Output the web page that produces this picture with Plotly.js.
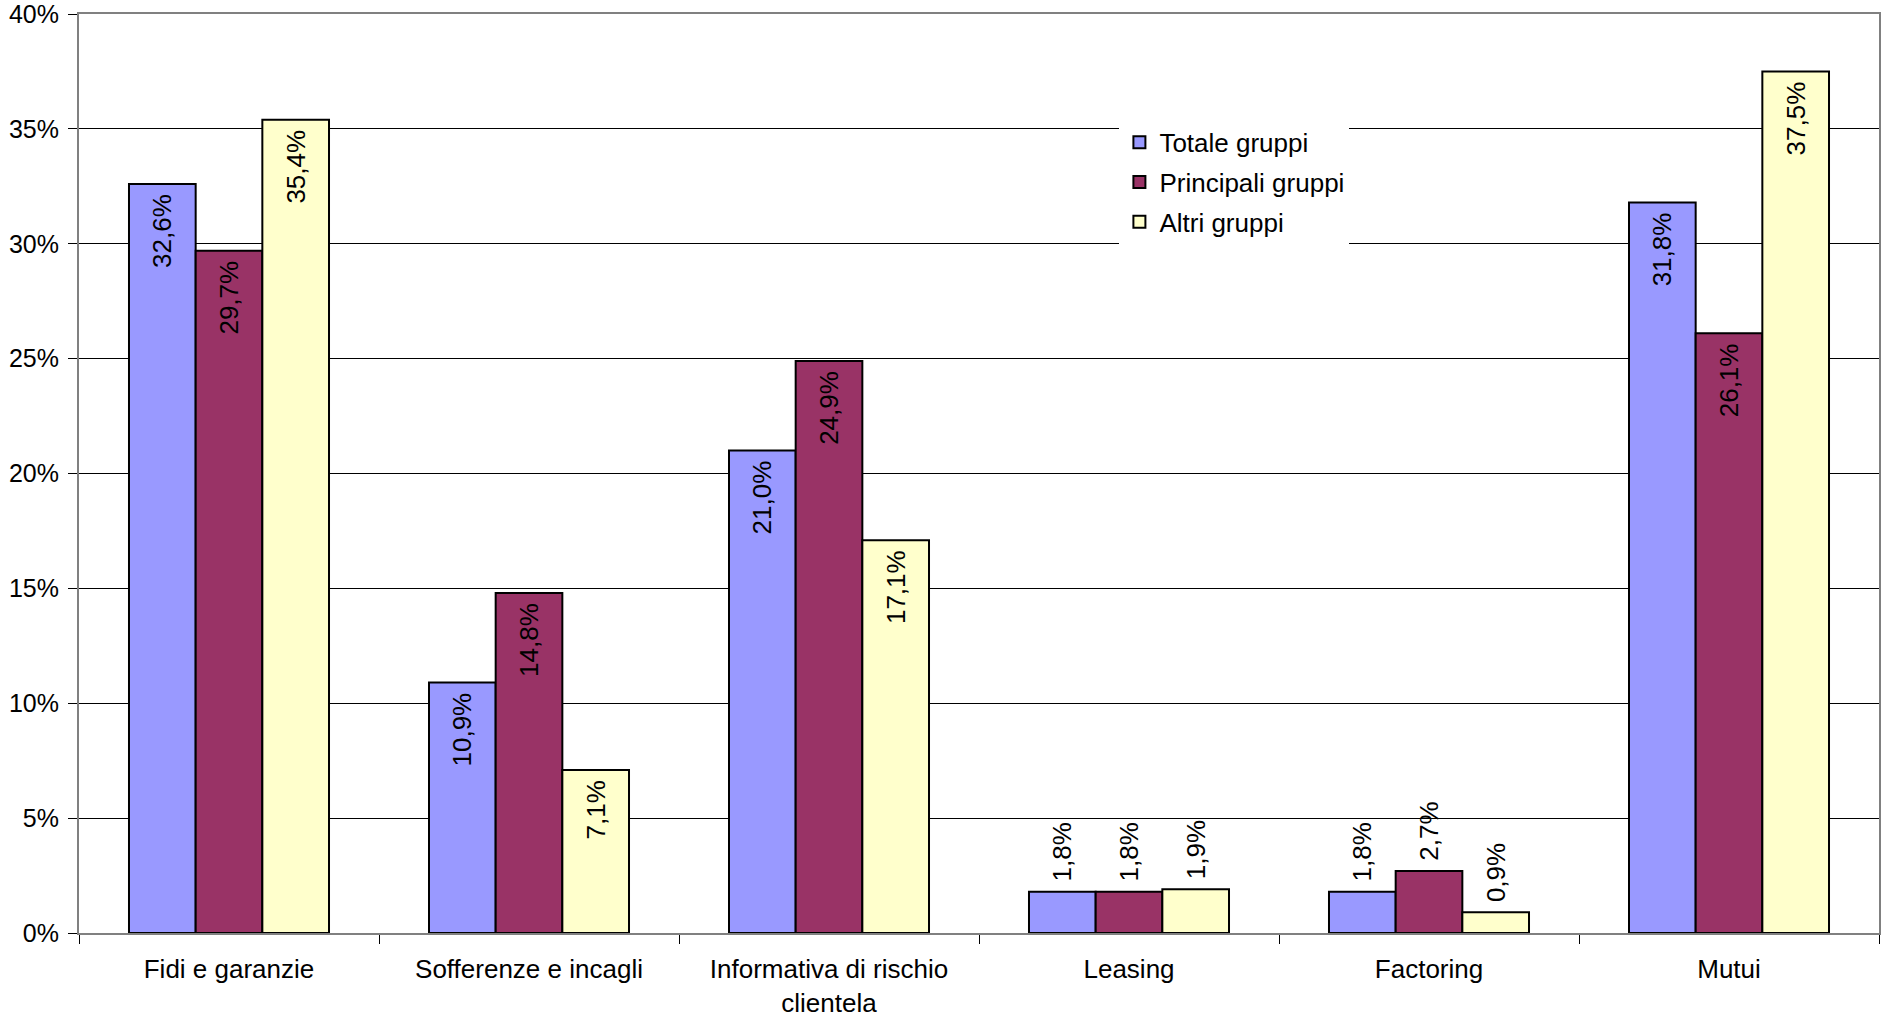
<!DOCTYPE html>
<html>
<head>
<meta charset="utf-8">
<script src="https://cdn.plot.ly/plotly-3.0.1.min.js"></script>
<style>html,body{margin:0;padding:0;background:#fff;}#chart{width:1881px;height:1018px;}</style>
</head>
<body>
<div id="chart"></div>
<script>
const categories = ["Fidi e garanzie", "Sofferenze e incagli", "Informativa di rischio<br>clientela", "Leasing", "Factoring", "Mutui"];
const seriesNames = ["Totale gruppi", "Principali gruppi", "Altri gruppi"];
const totaleGruppi = [32.6, 10.9, 21.0, 1.8, 1.8, 31.8];
const principaliGruppi = [29.7, 14.8, 24.9, 1.8, 2.7, 26.1];
const altriGruppi = [35.4, 7.1, 17.1, 1.9, 0.9, 37.5];
const yTicks = [0, 5, 10, 15, 20, 25, 30, 35, 40];

const colors = ["#9999FF", "#993366", "#FFFFCC"];
const allValues = [totaleGruppi, principaliGruppi, altriGruppi];
const FONT = "Liberation Sans, Arial, sans-serif";

const traces = allValues.map((vals, i) => ({
  type: "bar",
  name: seriesNames[i],
  legendgroup: "g" + i,
  x: categories,
  y: vals,
  marker: {color: colors[i], line: {color: "#000", width: 2}},
  texttemplate: "\u00A0%{y:.1f}%\u00A0",
  textposition: vals.map(v => v > 5 ? "inside" : "outside"),
  insidetextanchor: "end",
  textangle: -90,
  constraintext: "none",
  cliponaxis: false,
  textfont: {family: FONT, size: 26, color: "#000"},
  insidetextfont: {family: FONT, size: 26, color: "#000"},
  outsidetextfont: {family: FONT, size: 26, color: "#000"},
  hoverinfo: "skip"
}));

const layout = {
  width: 1881,
  height: 1018,
  margin: {l: 79, r: 2, t: 14, b: 85, pad: 0},
  paper_bgcolor: "#fff",
  plot_bgcolor: "#fff",
  separators: ",.",
  barmode: "group",
  bargap: 0.3333,
  bargroupgap: 0,
  font: {family: FONT, size: 26, color: "#000"},
  showlegend: true,
  legend: {
    x: 0.578, y: 0.886, xanchor: "left", yanchor: "top",
    bgcolor: "#fff", borderwidth: 0,
    font: {family: FONT, size: 26, color: "#000"},
    tracegroupgap: 3,
    traceorder: "grouped"
  },
  xaxis: {
    type: "category",
    showline: true, linecolor: "#808080", linewidth: 2, mirror: true,
    ticks: "outside", tickson: "boundaries", ticklen: 9, tickcolor: "#000", tickwidth: 1,
    showgrid: false, zeroline: false,
    ticklabelstandoff: 12,
    tickfont: {family: FONT, size: 26, color: "#000"},
    fixedrange: true
  },
  yaxis: {
    range: [0, 40],
    tickvals: yTicks,
    ticktext: yTicks.map(v => v + "%"),
    showline: true, linecolor: "#808080", linewidth: 2, mirror: true,
    ticks: "outside", ticklen: 9, tickcolor: "#000", tickwidth: 1,
    showgrid: true, gridcolor: "#000", gridwidth: 1,
    zeroline: false,
    ticklabelstandoff: 4,
    ticklabeloverflow: "allow",
    tickfont: {family: FONT, size: 25, color: "#000"},
    fixedrange: true
  }
};

Plotly.newPlot("chart", traces, layout, {displayModeBar: false, staticPlot: true});
</script>
</body>
</html>
